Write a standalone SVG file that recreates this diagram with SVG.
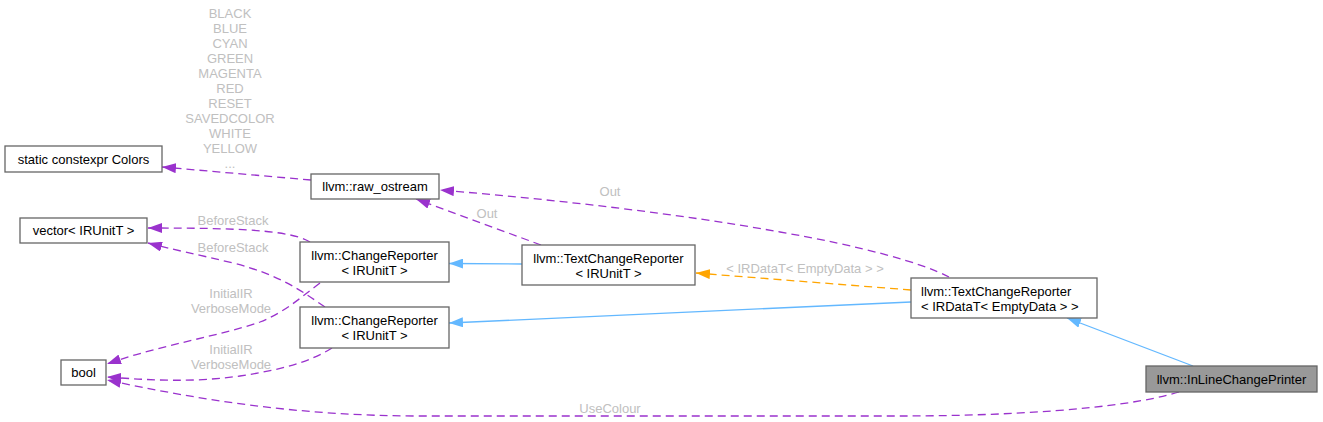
<svg xmlns="http://www.w3.org/2000/svg" width="1323" height="422" viewBox="0 0 1323 422">
<style>
.node rect{fill:#ffffff;stroke:#666666;stroke-width:1.3}
.node.hl rect{fill:#999999}
text{font-family:"Liberation Sans",Arial,Helvetica,sans-serif;font-size:13px;fill:#000000}
.c{text-anchor:middle}
.lbl{fill:#c0c0c0;text-anchor:middle}
.e{fill:none;stroke-width:1.3}
.p{stroke:#9a32cd;stroke-dasharray:8,5;marker-end:url(#ap)}
.b{stroke:#63b8ff;marker-end:url(#ab)}
.o{stroke:#ffa500;stroke-dasharray:8,5;marker-end:url(#ao)}
</style>
<defs>
<marker id="ap" viewBox="0 0 14 10" refX="14" refY="5" markerWidth="14" markerHeight="10" markerUnits="userSpaceOnUse" orient="auto"><path d="M0,0 L14,5 L0,10 z" fill="#9a32cd"/></marker>
<marker id="ab" viewBox="0 0 14 10" refX="14" refY="5" markerWidth="14" markerHeight="10" markerUnits="userSpaceOnUse" orient="auto"><path d="M0,0 L14,5 L0,10 z" fill="#63b8ff"/></marker>
<marker id="ao" viewBox="0 0 14 10" refX="14" refY="5" markerWidth="14" markerHeight="10" markerUnits="userSpaceOnUse" orient="auto"><path d="M0,0 L14,5 L0,10 z" fill="#ffa500"/></marker>
</defs>
<rect width="1323" height="422" fill="#ffffff"/>
<g id="edges">
<path class="e p" d="M311,180 L162,167"/>
<path class="e p" d="M541,245 L416,199"/>
<path class="e p" d="M949,277 C920,262 860,246 780,232 C680,214 560,200 440,190"/>
<path class="e p" d="M310,242 C290,230 240,228 148,228"/>
<path class="e p" d="M325,307 C300,290 280,275 233,263 C200,255 170,249 148,243"/>
<path class="e p" d="M320,283 C300,298 285,312 260,322 C220,336 160,345 107,364"/>
<path class="e p" d="M332,348 C310,362 280,370 240,376 C190,383 150,380 107,377"/>
<path class="e p" d="M1179,392 C1120,410 1000,416 900,416 L420,416 C300,416 200,400 107,380"/>
<path class="e b" d="M522,264 L449,263.5"/>
<path class="e b" d="M911,302 L449,323"/>
<path class="e b" d="M1193,366 L1067,318"/>
<path class="e o" d="M911,290 L696,273"/>
<text class="lbl" x="230" y="18">BLACK</text>
<text class="lbl" x="230" y="33">BLUE</text>
<text class="lbl" x="230" y="48">CYAN</text>
<text class="lbl" x="230" y="63">GREEN</text>
<text class="lbl" x="230" y="78">MAGENTA</text>
<text class="lbl" x="230" y="93">RED</text>
<text class="lbl" x="230" y="108">RESET</text>
<text class="lbl" x="230" y="123">SAVEDCOLOR</text>
<text class="lbl" x="230" y="138">WHITE</text>
<text class="lbl" x="230" y="153">YELLOW</text>
<text class="lbl" x="230" y="168">...</text>
<text class="lbl" x="610" y="196">Out</text>
<text class="lbl" x="487" y="218">Out</text>
<text class="lbl" x="233" y="225">BeforeStack</text>
<text class="lbl" x="233" y="252">BeforeStack</text>
<text class="lbl" x="231" y="298">InitialIR</text>
<text class="lbl" x="231" y="313">VerboseMode</text>
<text class="lbl" x="231" y="354">InitialIR</text>
<text class="lbl" x="231" y="369">VerboseMode</text>
<text class="lbl" x="805" y="273">&lt; IRDataT&lt; EmptyData &gt; &gt;</text>
<text class="lbl" x="610" y="413">UseColour</text>
</g>
<g id="n_colors" class="node"><rect x="5" y="146" width="157" height="26"/><text class="c" x="83.5" y="164">static constexpr Colors</text></g>
<g id="n_raw_ostream" class="node"><rect x="311" y="174" width="128" height="25"/><text class="c" x="375" y="191">llvm::raw_ostream</text></g>
<g id="n_vector" class="node"><rect x="20" y="218" width="127" height="25"/><text class="c" x="83.5" y="235">vector&lt; IRUnitT &gt;</text></g>
<g id="n_changereporter1" class="node"><rect x="300" y="242" width="149" height="40"/><text class="c" x="374.5" y="260">llvm::ChangeReporter</text><text class="c" x="374.5" y="275">&lt; IRUnitT &gt;</text></g>
<g id="n_changereporter2" class="node"><rect x="300" y="307" width="149" height="41"/><text class="c" x="374.5" y="325">llvm::ChangeReporter</text><text class="c" x="374.5" y="340">&lt; IRUnitT &gt;</text></g>
<g id="n_bool" class="node"><rect x="61" y="360" width="45" height="25"/><text class="c" x="83.5" y="377">bool</text></g>
<g id="n_textchangereporter" class="node"><rect x="522" y="245" width="173" height="40"/><text class="c" x="608.5" y="263">llvm::TextChangeReporter</text><text class="c" x="608.5" y="278">&lt; IRUnitT &gt;</text></g>
<g id="n_textchangereporter_irdata" class="node"><rect x="911" y="278" width="186" height="40"/><text x="921" y="296">llvm::TextChangeReporter</text><text x="921" y="311">&lt; IRDataT&lt; EmptyData &gt; &gt;</text></g>
<g id="n_inlinechangeprinter" class="node hl"><rect x="1146" y="366" width="171" height="26"/><text class="c" x="1231.5" y="384">llvm::InLineChangePrinter</text></g>
</svg>
